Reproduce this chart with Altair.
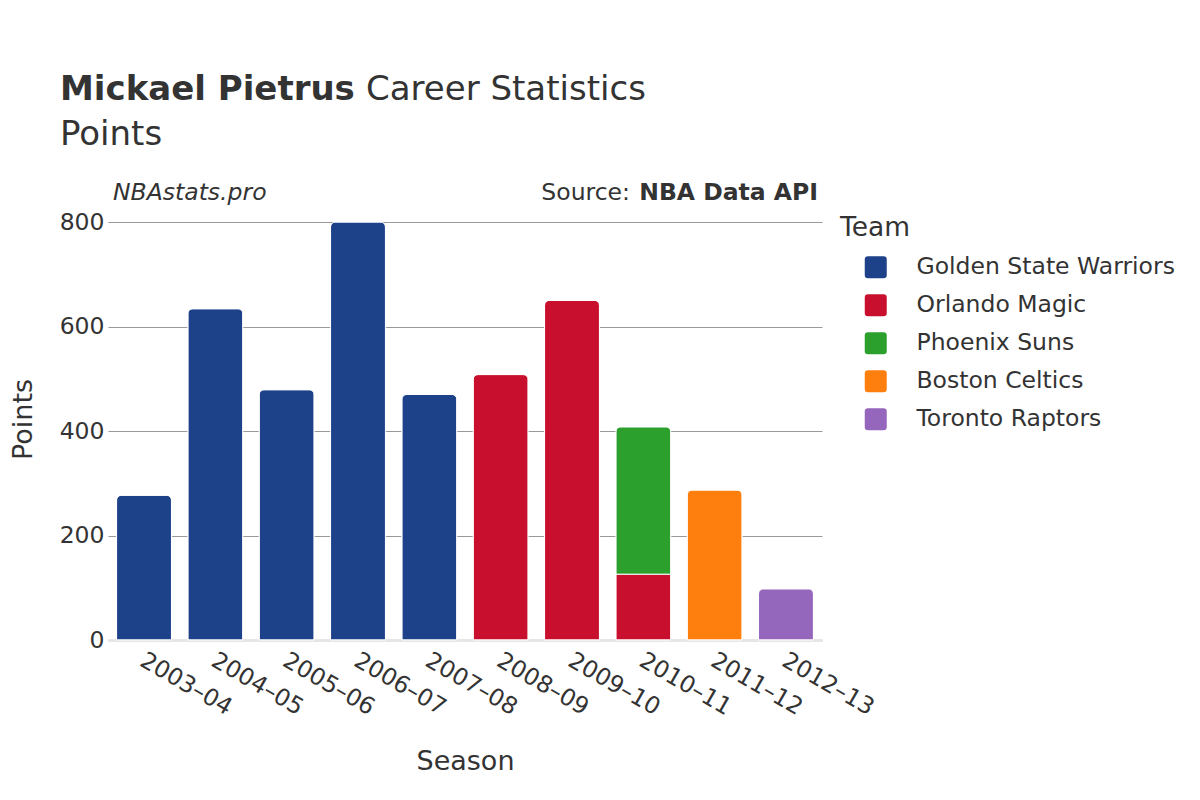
import altair as alt
import pandas as pd

seasons = ["2003–04", "2004–05", "2005–06", "2006–07", "2007–08",
           "2008–09", "2009–10", "2010–11", "2010–11", "2011–12", "2012–13"]
teams = ["Golden State Warriors", "Golden State Warriors", "Golden State Warriors",
         "Golden State Warriors", "Golden State Warriors", "Orlando Magic",
         "Orlando Magic", "Orlando Magic", "Phoenix Suns", "Boston Celtics",
         "Toronto Raptors"]
points = [277, 634, 479, 800, 470, 508, 650, 126, 282, 287, 98]

season_order = ["2003–04", "2004–05", "2005–06", "2006–07", "2007–08",
                "2008–09", "2009–10", "2010–11", "2011–12", "2012–13"]
team_order = ["Golden State Warriors", "Orlando Magic", "Phoenix Suns",
              "Boston Celtics", "Toronto Raptors"]
team_colors = ["#1d428a", "#c8102e", "#2ca02c", "#ff7f0e", "#9467bd"]

df = pd.DataFrame({"Season": seasons, "Team": teams, "Points": points})
df["order"] = df["Team"].map({t: i for i, t in enumerate(team_order)})

FONT = "DejaVu Sans"
TXT = "#333333"

rounded = ("M-0.7,-1 L0.7,-1 Q1,-1 1,-0.7 L1,0.7 Q1,1 0.7,1 L-0.7,1 "
           "Q-1,1 -1,0.7 L-1,-0.7 Q-1,-1 -0.7,-1 Z")

bars = alt.Chart(df).mark_bar(cornerRadiusEnd=5, stroke="white", strokeWidth=1).encode(
    x=alt.X("Season:N", sort=season_order,
            scale=alt.Scale(paddingInner=0.23, paddingOuter=0.12),
            axis=alt.Axis(title="Season", labelAngle=30, labelAlign="left",
                          labelBaseline="top", labelPadding=8, labelOffset=4,
                          ticks=False, grid=False,
                          domainColor="#e6e6e6", domainWidth=3,
                          labelFontSize=23.5, labelColor=TXT,
                          titleFontSize=27, titleColor=TXT, titleFontWeight="normal",
                          titleY=129, titleBaseline="alphabetic")),
    y=alt.Y("Points:Q", stack="zero", scale=alt.Scale(domain=[0, 800]),
            axis=alt.Axis(title="Points", values=[0, 200, 400, 600, 800],
                          domain=False, ticks=False, labelPadding=4,
                          gridColor="#999999", gridWidth=1,
                          labelFontSize=23.5, labelColor=TXT,
                          titleFontSize=27, titleColor=TXT, titleFontWeight="normal",
                          titleX=-77, titleY=197, titleBaseline="alphabetic",
                          titleAlign="center")),
    color=alt.Color("Team:N", scale=alt.Scale(domain=team_order, range=team_colors),
                    legend=alt.Legend(title="Team", orient="none", legendX=732, legendY=-7,
                                      padding=0, symbolType=rounded, symbolSize=484,
                                      symbolOffset=24, labelOffset=29, rowPadding=13,
                                      titlePadding=14, symbolStrokeWidth=0,
                                      titleFontSize=26.5, titleFontWeight="normal",
                                      titleColor=TXT, labelFontSize=23.5, labelColor=TXT,
                                      labelLimit=400)),
    order=alt.Order("order:Q", sort="ascending"),
)

def txt(s, x, y, size, weight="normal", style="normal", align="left"):
    return alt.Chart(pd.DataFrame({"t": [s]})).mark_text(
        text=s, fontSize=size, fontWeight=weight, fontStyle=style, align=align,
        baseline="alphabetic", font=FONT, color=TXT
    ).encode(x=alt.value(x), y=alt.value(y))

title1 = txt("Mickael Pietrus", -48, -122, 34, weight="bold")
title2 = txt("Career Statistics", 258, -122, 34)
title3 = txt("Points", -48, -77, 34)
site = txt("NBAstats.pro", 5, -22, 23.5, style="italic")
src1 = txt("Source:", 522, -22, 23.5, align="right")
src2 = txt("NBA Data API", 710, -22, 23.5, weight="bold", align="right")

chart = alt.layer(bars, title1, title2, title3, site, src1, src2).properties(
    width=714, height=418,
    autosize=alt.AutoSizeParams(type="none"),
    padding={"left": 100, "top": 214, "right": 370, "bottom": 152},
    background="white",
).configure(font=FONT).configure_view(stroke="transparent", strokeWidth=0)

chart.save("out.html", embed_options={"renderer": "svg", "actions": False})
